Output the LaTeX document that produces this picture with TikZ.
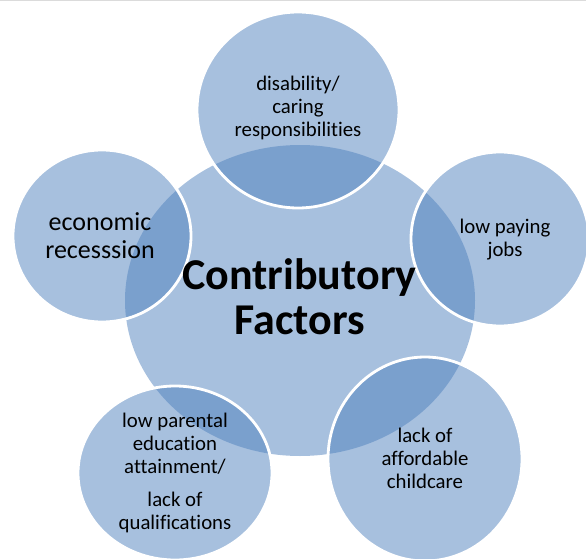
\documentclass[tikz,border=0pt]{standalone}
\usepackage{fontspec}
\setmainfont{Carlito}[Ligatures=NoCommon]
\definecolor{accent}{HTML}{4F81BD}
\tikzset{
	hub/.style={fill=accent, fill opacity=0.5},
	bubble/.style={fill=accent, fill opacity=0.5, draw=white, line width=2.8pt},
	factor/.style={align=center, text=black, font=\fontsize{20.8}{23}\selectfont},
}
\begin{document}
\begin{tikzpicture}[x=1pt,y=-1pt]

	\useasboundingbox (0,0) rectangle (586,559);
	\clip (0,0) rectangle (586,559);
	\fill [black!14] (0,0) rectangle (586,1.5);

	\coordinate (X) at (300,300.5);
	\coordinate (A) at (298,110);
	\coordinate (B) at (500,239);
	\coordinate (C) at (425,459);
	\coordinate (D) at (175,473);
	\coordinate (E) at (102,236);

	\fill 	[hub] (X) ellipse [x radius=175pt, y radius=155.5pt];

	\draw 	[bubble] (A) ellipse [x radius=101pt, y radius=98pt];
	\draw 	[bubble] (B) ellipse [x radius=89pt, y radius=87pt];
	\draw 	[bubble] (C) ellipse [x radius=97pt, y radius=102pt];
	\draw 	[bubble] (D) ellipse [x radius=97pt, y radius=87pt];
	\draw 	[bubble] (E) ellipse [x radius=89pt, y radius=86pt];

	\node [align=center, font=\fontsize{44}{45}\selectfont\bfseries] (title) at (299.5,297) {Contributory\\Factors};

	\node [factor] (care) at (298,108) {disability/\\caring\\responsibilities};
	\node [factor] (pay) at (505,240) {low paying\\jobs};
	\node [factor] (childcare) at (425,458) {lack of\\affordable\\childcare};
	\node [factor] (parent) at (175,473) {low parental\\education\\attainment/\\[10pt]lack of\\qualifications};
	\node [factor, font=\fontsize{26}{28}\selectfont] (recession) at (100,235.5) {economic\\recesssion};

\end{tikzpicture}
\end{document}
